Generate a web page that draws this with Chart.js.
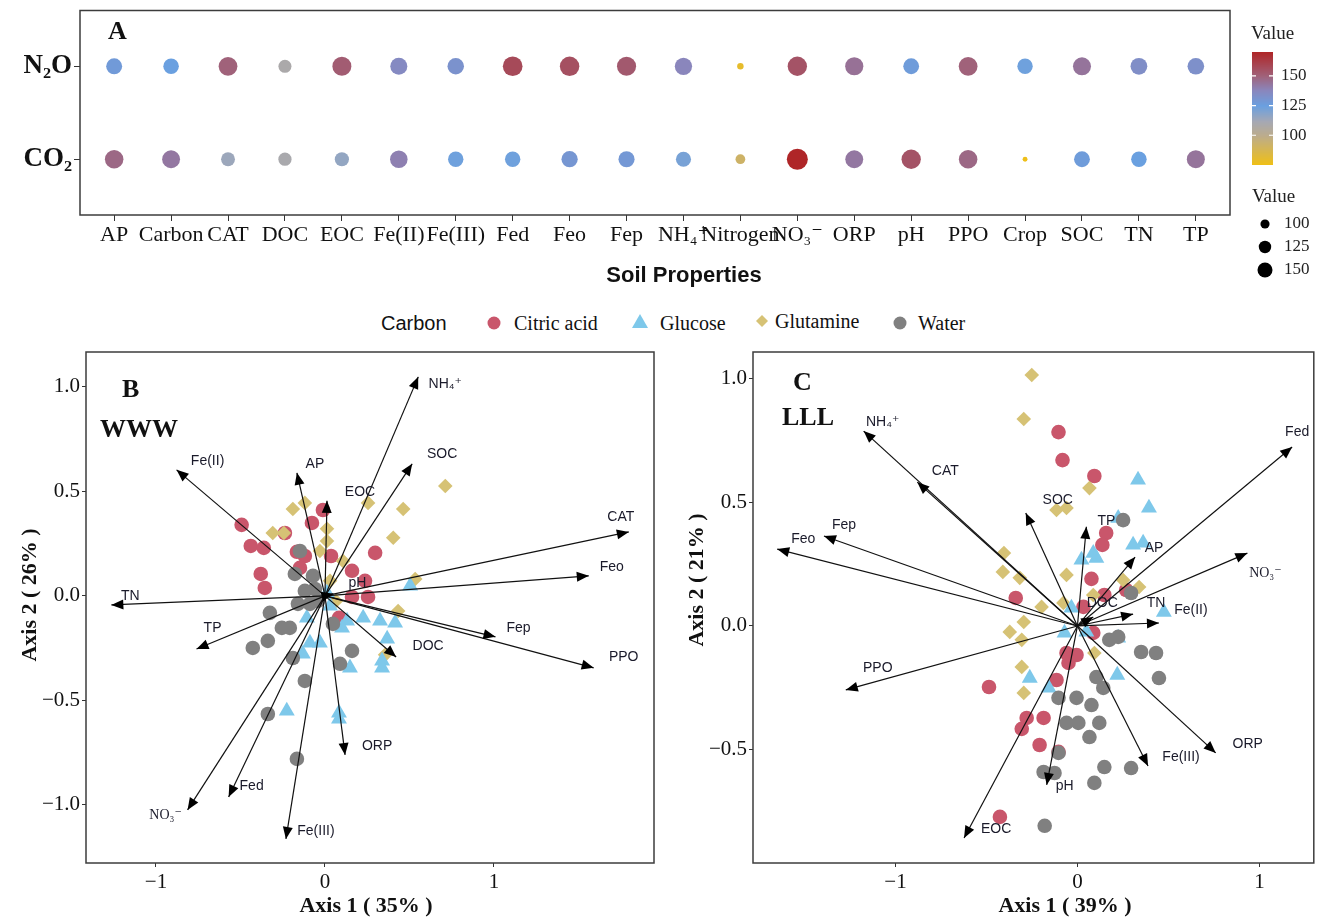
<!DOCTYPE html>
<html><head><meta charset="utf-8">
<script src="https://cdn.jsdelivr.net/npm/chart.js@4.4.1/dist/chart.umd.min.js"></script>
<style>
html,body{margin:0;padding:0;background:#fff;}
body{width:1323px;height:920px;position:relative;overflow:hidden;}
.wrap{position:absolute;}
#legend{position:absolute;left:0;top:303px;}
</style></head><body>
<div class="wrap" style="left:0;top:0;width:1323px;height:300px"><canvas id="cA"></canvas></div>
<svg id="legend" width="1323" height="40" xmlns="http://www.w3.org/2000/svg">
  <text x="381" y="27" font-family="Liberation Sans" font-size="20" fill="#111">Carbon</text>
  <circle cx="494" cy="20" r="6.5" fill="#C9566B"/>
  <text x="514" y="27" font-family="Liberation Serif" font-size="20" fill="#111">Citric acid</text>
  <polygon points="640,11 648,25 632,25" fill="#7EC8EA"/>
  <text x="660" y="27" font-family="Liberation Serif" font-size="20" fill="#111">Glucose</text>
  <polygon points="762,12 768,18 762,24 756,18" fill="#D6C275"/>
  <text x="775" y="25" font-family="Liberation Serif" font-size="20" fill="#111">Glutamine</text>
  <circle cx="900" cy="20" r="6.5" fill="#808080"/>
  <text x="918" y="27" font-family="Liberation Serif" font-size="20" fill="#111">Water</text>
</svg>
<div class="wrap" style="left:0;top:340px;width:670px;height:580px"><canvas id="cB"></canvas></div>
<div class="wrap" style="left:670px;top:340px;width:653px;height:580px"><canvas id="cC"></canvas></div>
<script>
// ---------------- DATA ----------------
const categories = ['AP','Carbon','CAT','DOC','EOC','Fe(II)','Fe(III)','Fed','Feo','Fep','NH₄⁺','Nitrogen','NO₃⁻','ORP','pH','PPO','Crop','SOC','TN','TP'];
const gasLabels = ['CO₂','N₂O'];
const n2oValues = [128,125,150,109,152,136,132,158,156,153,138,80,155,145,127,150,124,144,134,133];
const co2Values = [148,143,114,110,116,140,124,124,130,129,122,92,170,143,155,148,76,127,125,144];
const colorbarTicks = [100,125,150];
const sizeLegendValues = [100,125,150];

const bCitricX = [-0.493,-0.439,-0.362,-0.380,-0.356,-0.166,-0.119,-0.077,-0.012,0.036,0.160,0.297,0.237,0.255,0.160,0.083,-0.148,-0.237];
const bCitricY = [0.340,0.239,0.230,0.105,0.038,0.211,0.191,0.349,0.411,0.191,0.120,0.206,0.072,-0.005,-0.005,-0.105,0.134,0.301];
const bGlucoseX = [0.504,-0.107,0.131,0.226,0.326,0.415,0.368,0.338,0.338,0.148,0.101,-0.089,-0.030,-0.131,0.012,-0.226,0.083,0.083,0.030];
const bGlucoseY = [0.048,-0.105,-0.120,-0.105,-0.120,-0.129,-0.206,-0.311,-0.344,-0.344,-0.153,-0.225,-0.225,-0.278,0.014,-0.550,-0.560,-0.589,-0.048];
const bGlutamineX = [-0.190,-0.119,-0.309,-0.243,0.012,-0.030,0.255,0.463,0.404,0.712,0.534,0.433,0.356,0.107,0.065,0.012,0.030];
const bGlutamineY = [0.416,0.445,0.301,0.301,0.321,0.215,0.445,0.416,0.278,0.526,0.081,-0.072,-0.282,0.167,-0.024,0.263,0.072];
const bWaterX = [-0.148,-0.178,-0.071,-0.119,-0.089,-0.326,-0.255,-0.208,-0.338,-0.427,-0.190,-0.119,0.047,0.160,0.089,-0.338,-0.166,-0.059,-0.042,-0.160];
const bWaterY = [0.215,0.105,0.096,0.024,-0.038,-0.081,-0.153,-0.153,-0.215,-0.249,-0.297,-0.407,-0.134,-0.263,-0.325,-0.565,-0.780,0.033,-0.024,-0.038];

const bArrowNames = ['NH₄⁺','SOC','CAT','Feo','Fep','PPO','DOC','ORP','Fe(III)','Fed','NO₃⁻','TP','TN','Fe(II)','AP','EOC','pH'];
const bArrowX = [0.552,0.516,1.798,1.561,1.009,1.590,0.421,0.119,-0.231,-0.570,-0.813,-0.760,-1.264,-0.878,-0.166,0.012,0.050];
const bArrowY = [1.048,0.632,0.306,0.096,-0.196,-0.344,-0.292,-0.761,-1.163,-0.962,-1.024,-0.254,-0.043,0.603,0.589,0.455,0.010];

const cCitricX = [-0.104,-0.082,0.093,0.158,0.137,0.077,-0.339,0.148,0.033,0.087,-0.060,-0.005,-0.049,-0.115,-0.486,-0.186,-0.279,-0.306,-0.208,-0.104,-0.426,0.268];
const cCitricY = [0.782,0.669,0.605,0.375,0.327,0.190,0.113,0.125,0.077,-0.028,-0.109,-0.117,-0.149,-0.218,-0.246,-0.371,-0.371,-0.415,-0.480,-0.508,-0.770,0.145];
const cGlucoseX = [0.333,0.393,0.306,0.361,0.087,0.022,0.104,0.475,-0.033,-0.071,0.224,0.219,-0.262,-0.158,0.049,0.224];
const cGlucoseY = [0.589,0.476,0.327,0.335,0.294,0.266,0.274,0.056,0.073,-0.028,-0.048,-0.198,-0.210,-0.250,-0.024,0.435];
const cGlutamineX = [-0.251,-0.295,-0.115,-0.060,0.066,-0.404,-0.410,-0.317,-0.197,-0.077,-0.295,-0.372,-0.306,-0.306,-0.295,-0.060,0.251,0.339,0.087,0.093];
const cGlutamineY = [1.012,0.835,0.468,0.476,0.556,0.294,0.218,0.194,0.077,0.093,0.016,-0.024,-0.056,-0.165,-0.270,0.206,0.185,0.157,0.125,-0.109];
const cWaterX = [0.251,0.295,0.175,0.224,0.350,0.432,0.448,0.104,0.142,-0.104,-0.005,0.077,-0.060,0.005,0.120,0.066,-0.104,-0.186,-0.126,0.148,0.295,0.093,-0.180];
const cWaterY = [0.427,0.133,-0.056,-0.044,-0.105,-0.109,-0.210,-0.206,-0.250,-0.290,-0.290,-0.319,-0.391,-0.391,-0.391,-0.448,-0.512,-0.589,-0.593,-0.569,-0.573,-0.633,-0.806];

const cArrowNames = ['Fed','NO₃⁻','ORP','Fe(III)','pH','EOC','PPO','Feo','Fep','NH₄⁺','CAT','SOC','TP','AP','DOC','TN','Fe(II)'];
const cArrowX = [1.180,0.934,0.760,0.388,-0.169,-0.623,-1.273,-1.650,-1.393,-1.175,-0.880,-0.284,0.049,0.317,0.087,0.306,0.448];
const cArrowY = [0.722,0.294,-0.512,-0.565,-0.641,-0.855,-0.258,0.310,0.363,0.786,0.580,0.456,0.400,0.278,0.036,0.048,0.012];

const bXTicks = [-1,0,1];
const bYTicks = [-1,-0.5,0,0.5,1];
const cXTicks = [-1,0,1];
const cYTicks = [-0.5,0,0.5,1];

// ---------------- STYLE / LAYOUT ----------------
const COLOR_STOPS = [[75,[240,192,20]],[100,[188,172,140]],[112,[165,168,180]],[125,[106,160,224]],[138,[138,134,188]],[150,[160,98,122]],[170,[175,38,40]]];
const V_MIN = 75, V_MAX = 170;
function colorFor(v){
  const s = COLOR_STOPS;
  if (v <= s[0][0]) return `rgb(${s[0][1].join(',')})`;
  for (let i=1;i<s.length;i++){
    if (v <= s[i][0]){
      const t=(v-s[i-1][0])/(s[i][0]-s[i-1][0]);
      const c=s[i-1][1].map((a,k)=>Math.round(a+(s[i][1][k]-a)*t));
      return `rgb(${c.join(',')})`;
    }
  }
  return `rgb(${s[s.length-1][1].join(',')})`;
}
function bubbleR(v){
  const rmin=2.2, rmax=10.5;
  const t=Math.max(0,(v-V_MIN)/(V_MAX-V_MIN));
  return Math.sqrt(rmin*rmin + t*(rmax*rmax-rmin*rmin));
}
const SERIF = '"Liberation Serif", "DejaVu Serif", serif';
const SANS = '"Liberation Sans", "DejaVu Sans", sans-serif';
const GROUP_STYLE = [
  {label:'Citric acid', style:'circle', color:'#C9566B', r:7.3, order:4},
  {label:'Glucose', style:'triangle', color:'#7EC8EA', r:9.2, order:2},
  {label:'Glutamine', style:'rectRot', color:'#D6C275', r:7.3, order:3},
  {label:'Water', style:'circle', color:'#808080', r:7.3, order:1},
];
const bLabelOffsets = [[27,7],[30,-10],[-8,-15],[23,-9],[23,-9],[30,-11],[32,-11],[32,-9],[30,-8],[23,-11],[-22,5],[16,-21],[19,-9],[31,-9],[18,-9],[33,-9],[24,-11]];
const cLabelOffsets = [[5,-15],[18,20],[32,-9],[33,-9],[18,1],[32,-9],[32,-22],[26,-10],[20,-11],[19,-9],[28,-11],[32,-13],[20,-6],[19,-9],[9,-14],[23,-11],[32,-13]];

Chart.defaults.animation = false;
Chart.defaults.events = [];

function fixSize(prop,val){
  return s=>{ s[prop]=val; s.paddingTop=0; s.paddingBottom=0; s.paddingLeft=0; s.paddingRight=0; };
}

// ---------------- PANEL A ----------------
const panelAPlugin = {
  id:'panelA',
  afterDraw(chart){
    const ctx=chart.ctx, a=chart.chartArea;
    ctx.save();
    ctx.strokeStyle='#3c3c3c'; ctx.lineWidth=1.5;
    ctx.strokeRect(a.left,a.top,a.right-a.left,a.bottom-a.top);
    ctx.fillStyle='#111'; ctx.textBaseline='middle'; ctx.textAlign='left';
    ctx.font='bold 26px '+SERIF; ctx.fillText('A',108,32);
    ctx.font='bold 22px '+SANS; ctx.textAlign='center'; ctx.fillText('Soil Properties',684,276);
    // colour bar
    const cbX=1252, cbW=21, cbTop=52, cbBot=165;
    for(let y=cbTop;y<cbBot;y++){
      const v=V_MAX-(y-cbTop)/(cbBot-cbTop)*(V_MAX-V_MIN);
      ctx.fillStyle=colorFor(v); ctx.fillRect(cbX,y,cbW,1);
    }
    ctx.font='19px '+SERIF; ctx.fillStyle='#222'; ctx.textAlign='left';
    ctx.fillText('Value',1251,34);
    ctx.font='17px '+SERIF;
    colorbarTicks.forEach(v=>{
      const y=cbTop+(V_MAX-v)/(V_MAX-V_MIN)*(cbBot-cbTop);
      ctx.strokeStyle='#fff'; ctx.lineWidth=1.2;
      ctx.beginPath(); ctx.moveTo(cbX,y); ctx.lineTo(cbX+4,y); ctx.moveTo(cbX+cbW-4,y); ctx.lineTo(cbX+cbW,y); ctx.stroke();
      ctx.fillStyle='#222'; ctx.fillText(String(v),cbX+cbW+8,y);
    });
    // size legend
    ctx.font='19px '+SERIF; ctx.fillText('Value',1252,197);
    ctx.font='17px '+SERIF;
    sizeLegendValues.forEach((v,i)=>{
      const y=224+i*23;
      ctx.fillStyle='#000'; ctx.beginPath(); ctx.arc(1265,y,bubbleR(v)*0.8,0,Math.PI*2); ctx.fill();
      ctx.fillStyle='#222'; ctx.fillText(String(v),1284,y);
    });
    ctx.restore();
  }
};

new Chart(document.getElementById('cA'),{
  type:'scatter',
  data:{datasets:[
    {label:'N2O', data:n2oValues.map((v,i)=>({x:i,y:1,v})),
     pointRadius:c=>c.raw?bubbleR(c.raw.v):5, backgroundColor:c=>c.raw?colorFor(c.raw.v):'#999', borderWidth:0},
    {label:'CO2', data:co2Values.map((v,i)=>({x:i,y:0,v})),
     pointRadius:c=>c.raw?bubbleR(c.raw.v):5, backgroundColor:c=>c.raw?colorFor(c.raw.v):'#999', borderWidth:0}
  ]},
  options:{
    responsive:true, maintainAspectRatio:false, devicePixelRatio:1,
    layout:{padding:{left:0,top:8,right:93,bottom:0}},
    plugins:{legend:{display:false},tooltip:{enabled:false}},
    scales:{
      x:{type:'linear',min:-0.6,max:19.6,
         afterBuildTicks:s=>{s.ticks=categories.map((_,i)=>({value:i}));},
         afterFit:fixSize('height',85),
         ticks:{autoSkip:false,maxRotation:0,minRotation:0,padding:1,color:'#111',font:{family:SERIF,size:22},callback:v=>categories[v]},
         grid:{drawOnChartArea:false,tickLength:6,color:'#333',lineWidth:1},
         border:{display:false}},
      y:{type:'linear',min:-0.6,max:1.6,
         afterBuildTicks:s=>{s.ticks=gasLabels.map((_,i)=>({value:i}));},
         afterFit:fixSize('width',80),
         ticks:{padding:2,color:'#111',font:{family:SERIF,size:27,weight:'bold'},callback:v=>gasLabels[v]},
         grid:{drawOnChartArea:false,tickLength:6,color:'#333',lineWidth:1},
         border:{display:false}}
    }
  },
  plugins:[panelAPlugin]
});

// ---------------- PANELS B / C ----------------
function biplot(id,P){
  const datasets=[];
  P.arrowX.forEach((x,i)=>datasets.push({type:'line',label:P.arrowNames[i],data:[{x:0,y:0},{x,y:P.arrowY[i]}],
    borderColor:'#111',borderWidth:1.2,pointRadius:0,showLine:true,order:0,clip:false}));
  P.groups.forEach((g,k)=>{
    const st=GROUP_STYLE[k];
    datasets.push({type:'scatter',label:st.label,data:g.x.map((x,i)=>({x,y:g.y[i]})),
      pointStyle:st.style,pointRadius:st.r,backgroundColor:st.color,borderWidth:0,order:st.order});
  });
  const plug={
    id:'biplot'+id,
    afterDatasetsDraw(chart){
      const ctx=chart.ctx, xs=chart.scales.x, ys=chart.scales.y;
      const ox=xs.getPixelForValue(0), oy=ys.getPixelForValue(0);
      ctx.save();
      P.arrowX.forEach((x,i)=>{
        const tx=xs.getPixelForValue(x), ty=ys.getPixelForValue(P.arrowY[i]);
        const ang=Math.atan2(ty-oy,tx-ox), L=12, W=5;
        const bx=tx-L*Math.cos(ang), by=ty-L*Math.sin(ang);
        ctx.fillStyle='#000';
        ctx.beginPath(); ctx.moveTo(tx,ty);
        ctx.lineTo(bx+W*Math.sin(ang),by-W*Math.cos(ang));
        ctx.lineTo(bx-W*Math.sin(ang),by+W*Math.cos(ang));
        ctx.closePath(); ctx.fill();
        const name=P.arrowNames[i], off=P.labelOffsets[i];
        ctx.font=(name==='NO₃⁻'?'14px '+SERIF:'14px '+SANS);
        ctx.fillStyle='#1a1a2a'; ctx.textAlign='center'; ctx.textBaseline='middle';
        ctx.fillText(name,tx+off[0],ty+off[1]);
      });
      ctx.restore();
    },
    afterDraw(chart){
      const ctx=chart.ctx,a=chart.chartArea;
      ctx.save();
      ctx.strokeStyle='#3c3c3c'; ctx.lineWidth=1.5;
      ctx.strokeRect(a.left,a.top,a.right-a.left,a.bottom-a.top);
      ctx.fillStyle='#111'; ctx.textAlign='left'; ctx.textBaseline='middle';
      ctx.font='bold 26px '+SERIF;
      ctx.fillText(P.letter,P.letterPos[0],P.letterPos[1]);
      ctx.fillText(P.sub,P.subPos[0],P.subPos[1]);
      ctx.font='bold 22px '+SERIF; ctx.textAlign='center';
      ctx.fillText(P.xTitle,P.xTitlePos[0],P.xTitlePos[1]);
      ctx.translate(P.yTitlePos[0],P.yTitlePos[1]); ctx.rotate(-Math.PI/2);
      ctx.fillText(P.yTitle,0,0);
      ctx.restore();
    }
  };
  const fmtY=v=>v.toFixed(1).replace('-','−');
  const fmtX=v=>String(v).replace('-','−');
  new Chart(document.getElementById(id),{
    type:'scatter',
    data:{datasets},
    options:{
      responsive:true,maintainAspectRatio:false,devicePixelRatio:1,
      layout:{padding:{left:0,top:12,right:P.padRight,bottom:0}},
      plugins:{legend:{display:false},tooltip:{enabled:false}},
      scales:{
        x:{type:'linear',min:P.xMin,max:P.xMax,
           afterBuildTicks:s=>{s.ticks=P.xTicks.map(v=>({value:v}));},
           afterFit:fixSize('height',57),
           ticks:{padding:3,color:'#111',font:{family:SERIF,size:21},callback:fmtX,autoSkip:false,maxRotation:0},
           grid:{drawOnChartArea:false,tickLength:4,color:'#333'},border:{display:false}},
        y:{type:'linear',min:P.yMin,max:P.yMax,
           afterBuildTicks:s=>{s.ticks=P.yTicks.map(v=>({value:v}));},
           afterFit:fixSize('width',P.yAxisWidth),
           ticks:{padding:2,color:'#111',font:{family:SERIF,size:21},callback:fmtY,autoSkip:false},
           grid:{drawOnChartArea:false,tickLength:4,color:'#333'},border:{display:false}}
      }
    },
    plugins:[plug]
  });
}

biplot('cB',{
  arrowNames:bArrowNames,arrowX:bArrowX,arrowY:bArrowY,labelOffsets:bLabelOffsets,
  groups:[{x:bCitricX,y:bCitricY},{x:bGlucoseX,y:bGlucoseY},{x:bGlutamineX,y:bGlutamineY},{x:bWaterX,y:bWaterY}],
  xMin:-1.414,xMax:1.947,yMin:-1.278,yMax:1.167,xTicks:bXTicks,yTicks:bYTicks,
  padRight:16,yAxisWidth:86,
  letter:'B',letterPos:[122,50],sub:'WWW',subPos:[100,90],
  xTitle:'Axis 1 ( 35% )',xTitlePos:[366,566],yTitle:'Axis 2 ( 26% )',yTitlePos:[30,255]
});
biplot('cC',{
  arrowNames:cArrowNames,arrowX:cArrowX,arrowY:cArrowY,labelOffsets:cLabelOffsets,
  groups:[{x:cCitricX,y:cCitricY},{x:cGlucoseX,y:cGlucoseY},{x:cGlutamineX,y:cGlutamineY},{x:cWaterX,y:cWaterY}],
  xMin:-1.783,xMax:1.299,yMin:-0.956,yMax:1.105,xTicks:cXTicks,yTicks:cYTicks,
  padRight:3,yAxisWidth:83,
  letter:'C',letterPos:[123,43],sub:'LLL',subPos:[112,78],
  xTitle:'Axis 1 ( 39% )',xTitlePos:[395,566],yTitle:'Axis 2 ( 21% )',yTitlePos:[27,240]
});
</script>
</body></html>
